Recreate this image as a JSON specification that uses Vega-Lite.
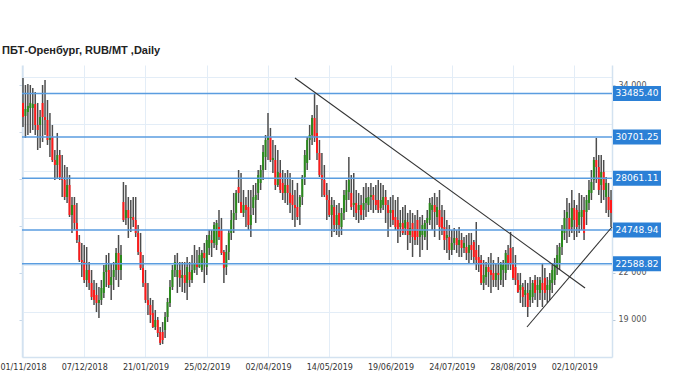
{
"$schema":"https://vega.github.io/schema/vega-lite/v6.json",
"width":590,"height":292,
"autosize":{"type":"none"},
"padding":{"left":22,"top":65,"right":68,"bottom":23},
"background":"white",
"config":{"view":{"stroke":null},"font":"DejaVu Sans"},
"title":{"text":"ПБТ-Оренбург,  RUB/MT ,Daily","anchor":"start","frame":"group","dx":-20,"dy":10,"offset":10,"baseline":"alphabetic","font":"Liberation Sans","fontSize":11,"fontWeight":"bold","color":"#222222"},
"datasets":{
"bars":[
{"k":0,"o":32880,"h":34480,"l":31340,"c":31980},
{"k":1,"o":32050,"h":34030,"l":30640,"c":32490},
{"k":2,"o":32300,"h":34090,"l":30830,"c":32690},
{"k":3,"o":32560,"h":34030,"l":30960,"c":32880},
{"k":4,"o":32560,"h":33840,"l":31150,"c":32810},
{"k":5,"o":32810,"h":33580,"l":30830,"c":31470},
{"k":6,"o":31470,"h":32880,"l":29870,"c":31150},
{"k":7,"o":31470,"h":32430,"l":30000,"c":31980},
{"k":8,"o":32880,"h":34030,"l":30380,"c":31980},
{"k":9,"o":31980,"h":34350,"l":30830,"c":31790},
{"k":10,"o":31790,"h":33070,"l":30190,"c":30510},
{"k":11,"o":30510,"h":32240,"l":29420,"c":30700},
{"k":12,"o":30700,"h":31470,"l":29100,"c":29230},
{"k":13,"o":29230,"h":29870,"l":27950,"c":28910},
{"k":14,"o":28910,"h":30960,"l":28080,"c":29550},
{"k":15,"o":29550,"h":29870,"l":27950,"c":28140},
{"k":16,"o":28140,"h":29550,"l":26860,"c":27950},
{"k":17,"o":27950,"h":28910,"l":26670,"c":26860},
{"k":18,"o":26860,"h":28780,"l":26480,"c":27630},
{"k":19,"o":27630,"h":28270,"l":25580,"c":25710},
{"k":20,"o":25710,"h":26860,"l":24560,"c":26350},
{"k":21,"o":26350,"h":26860,"l":24750,"c":25200},
{"k":22,"o":25200,"h":26480,"l":23920,"c":24110},
{"k":23,"o":23980,"h":24430,"l":22700,"c":22830},
{"k":24,"o":22830,"h":23920,"l":21740,"c":22700},
{"k":25,"o":22700,"h":23790,"l":21360,"c":21550},
{"k":26,"o":21550,"h":23660,"l":21100,"c":22190},
{"k":27,"o":22190,"h":22700,"l":20910,"c":21360},
{"k":28,"o":21360,"h":22190,"l":20270,"c":20460},
{"k":29,"o":20910,"h":21550,"l":19950,"c":20270},
{"k":30,"o":20590,"h":21360,"l":19500,"c":20080},
{"k":31,"o":20080,"h":21100,"l":19120,"c":20270},
{"k":32,"o":20270,"h":21550,"l":19950,"c":21040},
{"k":33,"o":20720,"h":22510,"l":20400,"c":22060},
{"k":34,"o":22060,"h":23150,"l":21100,"c":22510},
{"k":35,"o":22190,"h":23280,"l":21040,"c":21230},
{"k":36,"o":21230,"h":22640,"l":20270,"c":21740},
{"k":37,"o":21740,"h":22700,"l":20910,"c":22190},
{"k":38,"o":22190,"h":23600,"l":21550,"c":23280},
{"k":39,"o":23280,"h":24430,"l":21100,"c":22190},
{"k":40,"o":22190,"h":23790,"l":21550,"c":23150},
{"k":41,"o":26540,"h":27820,"l":25260,"c":25390},
{"k":42,"o":25520,"h":27630,"l":25070,"c":26030},
{"k":43,"o":26030,"h":26860,"l":24240,"c":25520},
{"k":44,"o":25520,"h":26670,"l":24620,"c":25580},
{"k":45,"o":25580,"h":26860,"l":24940,"c":25390},
{"k":46,"o":25390,"h":26860,"l":24300,"c":24560},
{"k":47,"o":24560,"h":25070,"l":23150,"c":23340},
{"k":48,"o":23340,"h":24560,"l":22190,"c":22320},
{"k":49,"o":22320,"h":23150,"l":21100,"c":21360},
{"k":50,"o":21360,"h":22190,"l":20080,"c":20270},
{"k":51,"o":20270,"h":21360,"l":19310,"c":19950},
{"k":52,"o":19950,"h":20400,"l":18800,"c":19310},
{"k":53,"o":19440,"h":20270,"l":18480,"c":18540},
{"k":54,"o":18540,"h":19630,"l":18350,"c":18990},
{"k":55,"o":18990,"h":19180,"l":17900,"c":18160},
{"k":56,"o":18220,"h":18540,"l":17390,"c":17520},
{"k":57,"o":18220,"h":18860,"l":17450,"c":17710},
{"k":58,"o":18350,"h":19500,"l":17840,"c":19180},
{"k":59,"o":19180,"h":20400,"l":18860,"c":20140},
{"k":60,"o":20080,"h":21550,"l":19820,"c":21100},
{"k":61,"o":21100,"h":22510,"l":20910,"c":22190},
{"k":62,"o":22190,"h":23150,"l":21740,"c":22700},
{"k":63,"o":21740,"h":23280,"l":20720,"c":22190},
{"k":64,"o":22190,"h":22700,"l":21100,"c":21680},
{"k":65,"o":21680,"h":22700,"l":20780,"c":21870},
{"k":66,"o":21870,"h":22700,"l":20720,"c":21360},
{"k":67,"o":21360,"h":23020,"l":20270,"c":22380},
{"k":68,"o":22060,"h":22700,"l":21100,"c":21550},
{"k":69,"o":21550,"h":23150,"l":21360,"c":22190},
{"k":70,"o":22190,"h":23790,"l":22000,"c":22640},
{"k":71,"o":22640,"h":23470,"l":21870,"c":22380},
{"k":72,"o":22380,"h":23660,"l":22320,"c":23150},
{"k":73,"o":22190,"h":23470,"l":22060,"c":23280},
{"k":74,"o":23280,"h":23920,"l":21360,"c":22960},
{"k":75,"o":22380,"h":24430,"l":21870,"c":24110},
{"k":76,"o":23600,"h":24750,"l":23150,"c":24430},
{"k":77,"o":24110,"h":24750,"l":23020,"c":23920},
{"k":78,"o":23920,"h":25260,"l":23600,"c":25070},
{"k":79,"o":23790,"h":25390,"l":23470,"c":25200},
{"k":80,"o":24940,"h":26030,"l":24110,"c":24300},
{"k":81,"o":24750,"h":25520,"l":23150,"c":23280},
{"k":82,"o":23340,"h":23470,"l":21360,"c":22320},
{"k":83,"o":22380,"h":23790,"l":21870,"c":23340},
{"k":84,"o":23340,"h":24750,"l":22830,"c":24560},
{"k":85,"o":24560,"h":26030,"l":24110,"c":25390},
{"k":86,"o":25390,"h":27120,"l":24560,"c":25840},
{"k":87,"o":25840,"h":27310,"l":25390,"c":27120},
{"k":88,"o":27500,"h":28590,"l":26480,"c":27120},
{"k":89,"o":26540,"h":28400,"l":26030,"c":25840},
{"k":90,"o":25840,"h":27310,"l":25580,"c":26350},
{"k":91,"o":26350,"h":26860,"l":24940,"c":26030},
{"k":92,"o":26220,"h":27310,"l":24750,"c":25070},
{"k":93,"o":25070,"h":27310,"l":24300,"c":25710},
{"k":94,"o":26160,"h":27630,"l":25710,"c":26860},
{"k":95,"o":26670,"h":27760,"l":25200,"c":26990},
{"k":96,"o":27120,"h":28590,"l":26670,"c":28270},
{"k":97,"o":27760,"h":28910,"l":27310,"c":28590},
{"k":98,"o":28590,"h":30190,"l":27950,"c":29740},
{"k":99,"o":29420,"h":30830,"l":28590,"c":30510},
{"k":100,"o":30510,"h":32240,"l":29230,"c":30700},
{"k":101,"o":30700,"h":31280,"l":29100,"c":29230},
{"k":102,"o":29230,"h":30510,"l":28400,"c":29360},
{"k":103,"o":29230,"h":30190,"l":27310,"c":27630},
{"k":104,"o":27630,"h":29870,"l":27500,"c":28460},
{"k":105,"o":28400,"h":29230,"l":27120,"c":27310},
{"k":106,"o":27760,"h":28590,"l":26670,"c":27120},
{"k":107,"o":27120,"h":28400,"l":26480,"c":27630},
{"k":108,"o":27630,"h":28590,"l":26350,"c":27120},
{"k":109,"o":27120,"h":28400,"l":25840,"c":26480},
{"k":110,"o":26990,"h":27950,"l":25390,"c":26350},
{"k":111,"o":26350,"h":27310,"l":24940,"c":26160},
{"k":112,"o":26220,"h":27760,"l":25390,"c":25580},
{"k":113,"o":26220,"h":26990,"l":25070,"c":26860},
{"k":114,"o":26860,"h":28270,"l":26350,"c":28140},
{"k":115,"o":28140,"h":29870,"l":27630,"c":29550},
{"k":116,"o":29040,"h":30700,"l":28590,"c":30510},
{"k":117,"o":30510,"h":31470,"l":29230,"c":30830},
{"k":118,"o":30830,"h":32110,"l":30190,"c":31920},
{"k":119,"o":31920,"h":33520,"l":30380,"c":30700},
{"k":120,"o":30960,"h":32750,"l":29230,"c":29680},
{"k":121,"o":29680,"h":30510,"l":28140,"c":28270},
{"k":122,"o":28270,"h":29680,"l":26860,"c":27950},
{"k":123,"o":27950,"h":28910,"l":26860,"c":26990},
{"k":124,"o":26990,"h":27760,"l":25390,"c":26670},
{"k":125,"o":26670,"h":27310,"l":25580,"c":25710},
{"k":126,"o":25710,"h":26860,"l":24300,"c":26350},
{"k":127,"o":26220,"h":26670,"l":24620,"c":25070},
{"k":128,"o":25070,"h":26350,"l":24430,"c":25710},
{"k":129,"o":25840,"h":26480,"l":24300,"c":25070},
{"k":130,"o":24940,"h":26160,"l":24430,"c":25840},
{"k":131,"o":25840,"h":27310,"l":25390,"c":26990},
{"k":132,"o":26670,"h":27950,"l":25900,"c":27310},
{"k":133,"o":27180,"h":29420,"l":26670,"c":27950},
{"k":134,"o":27120,"h":28270,"l":26030,"c":26220},
{"k":135,"o":26350,"h":28400,"l":25580,"c":26480},
{"k":136,"o":26480,"h":27310,"l":25390,"c":25840},
{"k":137,"o":26030,"h":27120,"l":25200,"c":26350},
{"k":138,"o":26350,"h":26990,"l":25390,"c":25710},
{"k":139,"o":26030,"h":27500,"l":25390,"c":26480},
{"k":140,"o":26480,"h":27760,"l":25580,"c":26800},
{"k":141,"o":26350,"h":27500,"l":25900,"c":26860},
{"k":142,"o":26860,"h":27760,"l":26030,"c":26990},
{"k":143,"o":26990,"h":27500,"l":25840,"c":26670},
{"k":144,"o":26670,"h":27630,"l":26030,"c":26350},
{"k":145,"o":26670,"h":27950,"l":25840,"c":26030},
{"k":146,"o":26160,"h":27760,"l":25840,"c":26670},
{"k":147,"o":26350,"h":27630,"l":26030,"c":26860},
{"k":148,"o":26860,"h":27310,"l":25200,"c":26350},
{"k":149,"o":26350,"h":26670,"l":24300,"c":25840},
{"k":150,"o":25840,"h":26860,"l":24940,"c":26030},
{"k":151,"o":26030,"h":26990,"l":25070,"c":25390},
{"k":152,"o":25580,"h":26670,"l":24750,"c":24940},
{"k":153,"o":25390,"h":26860,"l":23920,"c":24750},
{"k":154,"o":24940,"h":26030,"l":24300,"c":25200},
{"k":155,"o":25200,"h":26220,"l":24430,"c":24560},
{"k":156,"o":24880,"h":26350,"l":24430,"c":25390},
{"k":157,"o":25260,"h":25840,"l":23470,"c":24430},
{"k":158,"o":24430,"h":26030,"l":23920,"c":24880},
{"k":159,"o":25200,"h":25840,"l":23020,"c":24300},
{"k":160,"o":24750,"h":25710,"l":23790,"c":24110},
{"k":161,"o":25390,"h":26030,"l":23790,"c":24300},
{"k":162,"o":24300,"h":25580,"l":23020,"c":24750},
{"k":163,"o":24430,"h":25710,"l":23470,"c":25070},
{"k":164,"o":24300,"h":25390,"l":24110,"c":25200},
{"k":165,"o":25200,"h":26030,"l":23470,"c":25520},
{"k":166,"o":25390,"h":26800,"l":25070,"c":26480},
{"k":167,"o":26030,"h":26860,"l":24750,"c":26350},
{"k":168,"o":26350,"h":27120,"l":24300,"c":25900},
{"k":169,"o":25580,"h":26860,"l":25070,"c":26220},
{"k":170,"o":26030,"h":27310,"l":24110,"c":24940},
{"k":171,"o":25580,"h":26350,"l":24430,"c":24880},
{"k":172,"o":24940,"h":26030,"l":23470,"c":24110},
{"k":173,"o":24240,"h":25390,"l":23280,"c":24430},
{"k":174,"o":24300,"h":25070,"l":22830,"c":23470},
{"k":175,"o":23470,"h":24750,"l":23150,"c":23920},
{"k":176,"o":23920,"h":24880,"l":23470,"c":24240},
{"k":177,"o":24240,"h":24750,"l":23280,"c":23790},
{"k":178,"o":23790,"h":24940,"l":23020,"c":24110},
{"k":179,"o":24110,"h":24560,"l":23020,"c":23600},
{"k":180,"o":23600,"h":24300,"l":23280,"c":23920},
{"k":181,"o":23660,"h":24430,"l":22830,"c":23280},
{"k":182,"o":23280,"h":24560,"l":22640,"c":23790},
{"k":183,"o":23790,"h":24560,"l":22830,"c":23470},
{"k":184,"o":23980,"h":24110,"l":22640,"c":23020},
{"k":185,"o":23470,"h":25260,"l":22190,"c":22830},
{"k":186,"o":23020,"h":23790,"l":22060,"c":22640},
{"k":187,"o":22830,"h":23150,"l":21230,"c":21360},
{"k":188,"o":21360,"h":22830,"l":20910,"c":21870},
{"k":189,"o":21740,"h":22700,"l":21230,"c":22380},
{"k":190,"o":22380,"h":23020,"l":21100,"c":22060},
{"k":191,"o":22190,"h":23280,"l":20720,"c":21870},
{"k":192,"o":22000,"h":22830,"l":21100,"c":21550},
{"k":193,"o":21550,"h":22640,"l":21100,"c":22000},
{"k":194,"o":22000,"h":23020,"l":20910,"c":21870},
{"k":195,"o":21550,"h":22700,"l":21230,"c":22640},
{"k":196,"o":22190,"h":22830,"l":21100,"c":22510},
{"k":197,"o":22000,"h":23470,"l":21550,"c":23280},
{"k":198,"o":23150,"h":23790,"l":22190,"c":22640},
{"k":199,"o":23600,"h":24620,"l":22190,"c":22640},
{"k":200,"o":22640,"h":23660,"l":21550,"c":21680},
{"k":201,"o":22380,"h":23150,"l":21230,"c":21550},
{"k":202,"o":21550,"h":22000,"l":20720,"c":20780},
{"k":203,"o":20910,"h":22000,"l":20080,"c":21230},
{"k":204,"o":21100,"h":21360,"l":19820,"c":20460},
{"k":205,"o":20590,"h":21550,"l":19820,"c":20910},
{"k":206,"o":20720,"h":21360,"l":19180,"c":19820},
{"k":207,"o":20270,"h":21740,"l":19820,"c":20910},
{"k":208,"o":20460,"h":21550,"l":20080,"c":21360},
{"k":209,"o":21550,"h":21870,"l":20270,"c":20720},
{"k":210,"o":20910,"h":21740,"l":19820,"c":21230},
{"k":211,"o":20720,"h":21740,"l":20270,"c":21550},
{"k":212,"o":21360,"h":22640,"l":19820,"c":20910},
{"k":213,"o":21680,"h":22320,"l":20270,"c":20720},
{"k":214,"o":20910,"h":21740,"l":20080,"c":21230},
{"k":215,"o":20910,"h":22000,"l":20270,"c":21550},
{"k":216,"o":21360,"h":22510,"l":20720,"c":22190},
{"k":217,"o":21550,"h":22960,"l":21230,"c":22510},
{"k":218,"o":22380,"h":23790,"l":21870,"c":23150},
{"k":219,"o":22640,"h":23920,"l":22190,"c":23660},
{"k":220,"o":23660,"h":25070,"l":23150,"c":24750},
{"k":221,"o":24560,"h":26030,"l":24110,"c":25520},
{"k":222,"o":25520,"h":26800,"l":23920,"c":25900},
{"k":223,"o":25520,"h":26480,"l":24300,"c":24750},
{"k":224,"o":24940,"h":27310,"l":24560,"c":26160},
{"k":225,"o":26160,"h":26670,"l":24110,"c":25390},
{"k":226,"o":26030,"h":26350,"l":24300,"c":24940},
{"k":227,"o":25070,"h":27120,"l":24560,"c":25900},
{"k":228,"o":25580,"h":26990,"l":24750,"c":26030},
{"k":229,"o":26030,"h":26860,"l":24110,"c":24560},
{"k":230,"o":25900,"h":26990,"l":25070,"c":26670},
{"k":231,"o":26480,"h":27950,"l":26030,"c":27310},
{"k":232,"o":27120,"h":28590,"l":26670,"c":27820},
{"k":233,"o":27950,"h":29420,"l":27310,"c":29230},
{"k":234,"o":29230,"h":30640,"l":27760,"c":28780},
{"k":235,"o":28780,"h":29550,"l":26990,"c":27310},
{"k":236,"o":27630,"h":29550,"l":26480,"c":28460},
{"k":237,"o":28460,"h":29230,"l":26670,"c":27310},
{"k":238,"o":26860,"h":28140,"l":25840,"c":27760},
{"k":239,"o":26860,"h":27760,"l":25580,"c":26030},
{"k":240,"o":26670,"h":27310,"l":24940,"c":25840}
],
"levels":[{"v":33485.40},{"v":30701.25},{"v":28061.11},{"v":24748.94},{"v":22588.82}],
"trend":[{"t":"a","k":111,"v":34480},{"t":"a","k":229.4,"v":21040},{"t":"b","k":205.7,"v":18540},{"t":"b","k":240.4,"v":24940}]
},
"resolve":{"axis":{"y":"independent"}},
"layer":[
{"data":{"name":"bars"},
 "mark":{"type":"rule","color":"#4d4d4d","strokeWidth":1.5},
 "encoding":{
  "x":{"field":"k","type":"quantitative","scale":{"domain":[-0.4,240.4],"nice":false,"zero":false},
       "axis":{"orient":"bottom","title":null,"values":[0,25,50,75,100,125,150,175,200,225],
               "labelExpr":"['01/11/2018','07/12/2018','21/01/2019','25/02/2019','02/04/2019','14/05/2019','19/06/2019','24/07/2019','28/08/2019','02/10/2019'][round(datum.value/25)]",
               "grid":true,"gridColor":"#e3edf7","ticks":false,"domain":true,"domainColor":"#d3e2f0","domainWidth":1.5,
               "labelFont":"DejaVu Sans","labelFontSize":8,"labelColor":"#333333","labelPadding":6,"labelFlush":false,"labelOverlap":false}},
  "y":{"field":"l","type":"quantitative","scale":{"domain":[16621,35309],"nice":false,"zero":false},
       "axis":{"orient":"left","title":null,"values":[19520,22520,25520,28520,31520,34520],"grid":true,"gridColor":"#e3edf7","labels":false,"ticks":false,"domain":false}},
  "y2":{"field":"h"}
 }},
{"data":{"name":"bars"},
 "mark":{"type":"rule","strokeWidth":2},
 "encoding":{
  "x":{"field":"k","type":"quantitative","scale":{"domain":[-0.4,240.4],"nice":false,"zero":false}},
  "y":{"field":"o","type":"quantitative","scale":{"domain":[16621,35309],"nice":false,"zero":false},
       "axis":{"orient":"left","title":null,"values":[19000,22000,25000,28000,31000,34000],"grid":false,"labels":false,"ticks":true,"tickSize":3,"tickColor":"#c5d6e8","domainColor":"#d3e2f0","domainWidth":1.5}},
  "y2":{"field":"c"},
  "color":{"condition":{"test":"datum.c < datum.o","value":"#ff1a1a"},"value":"#2a8a1c"}
 }},
{"data":{"name":"levels"},
 "mark":{"type":"rule","color":"#5a9de0","strokeWidth":1.5},
 "encoding":{
  "y":{"field":"v","type":"quantitative","scale":{"domain":[16621,35309],"nice":false,"zero":false},
       "axis":{"orient":"right","title":null,"values":[19000,22000,34000],
               "labelExpr":"replace(format(datum.value, ','), ',', ' ')","grid":false,"tickSize":3,"tickColor":"#b8c8d8",
               "domainColor":"#d3e2f0","domainWidth":1.5,"labelFont":"DejaVu Sans","labelFontSize":8,"labelColor":"#555555","labelPadding":3}}
 }},
{"data":{"name":"trend"},
 "mark":{"type":"line","color":"#333333","strokeWidth":1.1},
 "encoding":{
  "x":{"field":"k","type":"quantitative","scale":{"domain":[-0.4,240.4],"nice":false,"zero":false}},
  "y":{"field":"v","type":"quantitative","scale":{"domain":[16621,35309],"nice":false,"zero":false},"axis":null},
  "detail":{"field":"t"}
 }},
{"data":{"name":"levels"},
 "mark":{"type":"point","shape":"M-1,-0.3125H1V0.3125H-1Z","size":2304,"filled":true,"opacity":1,"color":"#2b80d6","strokeWidth":0,"xOffset":25},
 "encoding":{
  "x":{"value":"width"},
  "y":{"field":"v","type":"quantitative","scale":{"domain":[16621,35309],"nice":false,"zero":false},"axis":null}
 }},
{"data":{"name":"levels"},
 "mark":{"type":"text","color":"white","font":"DejaVu Sans","fontSize":9,"align":"center","baseline":"middle","xOffset":25},
 "encoding":{
  "x":{"value":"width"},
  "y":{"field":"v","type":"quantitative","scale":{"domain":[16621,35309],"nice":false,"zero":false},"axis":null},
  "text":{"field":"v","type":"quantitative","format":".2f"}
 }}
]
}
